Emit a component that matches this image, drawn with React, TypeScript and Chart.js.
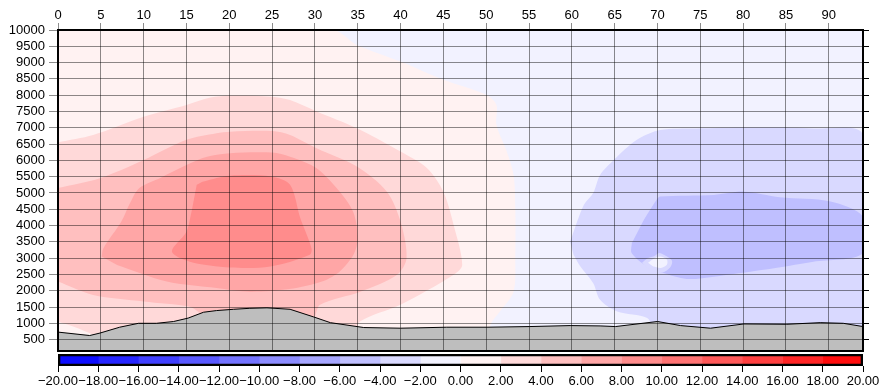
import React, { useEffect, useRef } from 'react';
import { Chart, registerables } from 'chart.js';

Chart.register(...registerables);

const FONT = { family: '"Liberation Sans", Arial, sans-serif', size: 13 };
const GRID = 'rgba(0,0,0,0.45)';

const X_MIN = 0;
const X_MAX = 94;
const Y_MIN = 150;
const Y_MAX = 10000;

const xTickValues = [0, 5, 10, 15, 20, 25, 30, 35, 40, 45, 50, 55, 60, 65, 70, 75, 80, 85, 90];
const yTickValues = [500, 1000, 1500, 2000, 2500, 3000, 3500, 4000, 4500, 5000, 5500, 6000, 6500, 7000, 7500, 8000, 8500, 9000, 9500, 10000];
const colorbarTicks = [-20, -18, -16, -14, -12, -10, -8, -6, -4, -2, 0, 2, 4, 6, 8, 10, 12, 14, 16, 18, 20];

// terrain profile
const terrainX = [0, 3.7, 4.9, 7.2, 9.4, 11.5, 13.5, 15.2, 17, 18.5, 20.5, 22.4, 24.4, 27.1, 29.8, 31.8, 35.7, 40, 45.4, 50.1, 55.1, 59.8, 63.3, 65.1, 70, 72.7, 76.2, 80.1, 85.1, 89, 91.7, 94];
const terrainY = [730, 625, 700, 880, 1000, 1000, 1055, 1160, 1340, 1390, 1430, 1460, 1475, 1430, 1200, 1020, 870, 850, 880, 880, 900, 930, 920, 900, 1055, 930, 850, 980, 970, 1020, 1000, 900];

// filled contour regions (value above band's lower level)
const bandBgX = [0, 0, 94, 94];
const bandBgY = [150, 10000, 10000, 150];

const band0X = [0, 0, 32.1, 34.9, 40, 45, 50.1, 51.2, 51.2, 52.4, 53.2, 53.4, 53.4, 53.2, 51.6, 50.5, 50];
const band0Y = [150, 10000, 10000, 9540, 9030, 8470, 8000, 7700, 7090, 6270, 5550, 4540, 3000, 1970, 1360, 950, 150];

const band2X = [0, 4.1, 10, 15, 17.8, 20.1, 25, 27.1, 30.2, 34.9, 40, 43.1, 45, 46.2, 47.2, 46.2, 40, 35.3, 34, 5, 4, 2, 0];
const band2Y = [6556, 6780, 7340, 7700, 7925, 7990, 7955, 7850, 7500, 6985, 6270, 5760, 5040, 4020, 2790, 2490, 1570, 1060, 500, 500, 660, 880, 1045];

const band4X = [0, 4.9, 10, 15, 18.5, 20.1, 25, 27.1, 30.2, 34.9, 38.4, 40, 40.7, 39.6, 35.3, 30.6, 29.8, 27, 18, 16.5, 15.4, 10, 4.1, 0];
const band4Y = [5150, 5450, 6010, 6630, 6830, 6880, 6900, 6780, 6370, 5810, 5040, 4120, 3000, 2490, 1970, 1570, 1150, 1000, 1000, 1330, 1510, 1670, 1870, 2280];

const band6X = [5.1, 5.3, 7.4, 8.4, 9.5, 12, 15, 17.4, 20.1, 25, 27.1, 30.2, 32.9, 34.5, 35, 34.5, 32.9, 31, 27, 22.4, 18.5, 12.7, 6.9];
const band6Y = [3050, 3300, 4120, 4680, 5150, 5470, 5860, 6110, 6220, 6240, 6110, 5760, 5040, 4400, 3600, 3100, 2590, 2300, 2050, 1970, 2080, 2280, 2790];

const band8X = [16.2, 17, 20.1, 25, 27.1, 28.3, 29.6, 29.4, 24.8, 20.1, 15.4, 13.3, 15, 15.6];
const band8Y = [5250, 5350, 5530, 5500, 5250, 4220, 3300, 3100, 2740, 2710, 2890, 3200, 3810, 4430];

const bandM2X = [59.8, 61.4, 62.5, 63.3, 64.9, 67.6, 70.3, 74.6, 80.5, 88.2, 94, 94, 70, 68.8, 65.3, 63.3, 62.5, 61, 60.2];
const bandM2Y = [3510, 4630, 5000, 5550, 6010, 6630, 6930, 6980, 7010, 6980, 6780, 700, 700, 1160, 1360, 1720, 2230, 2740, 3100];

const bandM4X = [68.4, 69.9, 70.3, 76.6, 80.1, 84.3, 90.2, 94, 94, 88.2, 82.4, 76.6, 73.4, 70.7, 68.8, 67, 67];
const bandM4Y = [4170, 4790, 4890, 4940, 5040, 4870, 4740, 4270, 3150, 2890, 2640, 2430, 2360, 2540, 2740, 3150, 3460];

const spotRingX = [68.2, 68.8, 69.6, 70.2, 70.9, 71.7, 71.5, 70.6, 69.6, 68.8];
const spotRingY = [2860, 2990, 3060, 3160, 3080, 2920, 2720, 2560, 2600, 2700];

const spotCoreX = [68.9, 69.6, 70.3, 71.1, 71.1, 70.4, 69.5];
const spotCoreY = [2860, 2990, 3050, 2960, 2800, 2700, 2740];

function binColor(lo: number, hi: number): string {
  const c = (lo + hi) / 2;
  const v = Math.round(255 * (1 - Math.abs(c) / 20));
  return c >= 0 ? `rgb(255,${v},${v})` : `rgb(${v},${v},255)`;
}

const fmt = (v: number) => v.toFixed(2).replace('-', '\u2212');

const noPad = (s: any) => { s.paddingTop = 0; s.paddingBottom = 0; s.paddingLeft = 0; s.paddingRight = 0; };

export default function App() {
  const mainRef = useRef<HTMLCanvasElement | null>(null);
  const cbRef = useRef<HTMLCanvasElement | null>(null);

  useEffect(() => {
    const bands: [number, number[], number[]][] = [
      [-2, bandBgX, bandBgY],
      [0, band0X, band0Y],
      [2, band2X, band2Y],
      [4, band4X, band4Y],
      [6, band6X, band6Y],
      [8, band8X, band8Y],
      [-4, bandM2X, bandM2Y],
      [-6, bandM4X, bandM4Y],
      [-4, spotRingX, spotRingY],
      [-2, spotCoreX, spotCoreY],
    ];
    const drawList: any[] = bands.map(([lo, xs, ys]) => ({
      data: xs.map((x, i) => ({ x, y: ys[i] })),
      fill: 'shape',
      backgroundColor: binColor(lo, lo + 2),
      borderColor: 'rgba(0,0,0,0)',
      borderWidth: 0,
      pointRadius: 0,
      pointHoverRadius: 0,
      tension: 0.3,
    }));
    drawList.push({
      data: terrainX.map((x, i) => ({ x, y: terrainY[i] })),
      fill: 'start',
      backgroundColor: '#bebebe',
      borderColor: '#000',
      borderWidth: 1,
      pointRadius: 0,
      pointHoverRadius: 0,
      tension: 0,
    });
    const n = drawList.length;
    drawList.forEach((d, i) => { d.order = n - i; });

    const setX = (s: any) => { s.ticks = xTickValues.map((v) => ({ value: v })); };
    const setY = (s: any) => { s.ticks = yTickValues.map((v) => ({ value: v })); };

    const main = new Chart(mainRef.current as HTMLCanvasElement, {
      type: 'line',
      data: { datasets: drawList },
      options: {
        responsive: false,
        animation: false,
        events: [],
        layout: { padding: 0 },
        plugins: { legend: { display: false }, tooltip: { enabled: false } },
        scales: {
          x: {
            type: 'linear', position: 'top', min: X_MIN, max: X_MAX,
            afterBuildTicks: setX,
            afterFit: (s: any) => { s.height = 30; noPad(s); },
            ticks: { autoSkip: false, maxRotation: 0, font: FONT, color: '#000', padding: 0, callback: (v: any) => String(v) },
            grid: { color: GRID, z: 1, tickLength: 7, tickColor: GRID },
            border: { color: '#000', width: 2, z: 2 },
          },
          xb: {
            type: 'linear', position: 'bottom', min: X_MIN, max: X_MAX,
            afterBuildTicks: setX,
            afterFit: (s: any) => { s.height = 2; noPad(s); },
            ticks: { display: false },
            grid: { drawOnChartArea: false, drawTicks: false },
            border: { color: '#000', width: 2, z: 2 },
          },
          y: {
            type: 'linear', position: 'left', min: Y_MIN, max: Y_MAX,
            afterBuildTicks: setY,
            afterFit: (s: any) => { s.width = 58; noPad(s); },
            ticks: { autoSkip: false, font: FONT, color: '#000', padding: 4, callback: (v: any) => String(v) },
            grid: { color: GRID, z: 1, tickLength: 9, tickColor: GRID },
            border: { color: '#000', width: 2, z: 2 },
          },
          yr: {
            type: 'linear', position: 'right', min: Y_MIN, max: Y_MAX,
            afterBuildTicks: setY,
            afterFit: (s: any) => { s.width = 19; noPad(s); },
            ticks: { display: false },
            grid: { drawOnChartArea: false, tickLength: 6, tickColor: '#000' },
            border: { color: '#000', width: 2, z: 2 },
          },
        },
      } as any,
    });

    const bins: [number, number][] = [];
    for (let i = 0; i < colorbarTicks.length - 1; i++) bins.push([colorbarTicks[i], colorbarTicks[i + 1]]);
    const cbSets: any[] = bins.map(([lo, hi]) => ({
      data: [[lo, hi]],
      backgroundColor: binColor(lo, hi),
      borderWidth: 0,
      grouped: false,
      barPercentage: 1,
      categoryPercentage: 1,
      order: 0,
    }));
    cbSets.push({
      data: [[colorbarTicks[0], colorbarTicks[colorbarTicks.length - 1]]],
      backgroundColor: 'rgba(0,0,0,0)',
      borderColor: '#000',
      borderWidth: 2,
      borderSkipped: false,
      grouped: false,
      barPercentage: 1,
      categoryPercentage: 1,
      order: -1,
    });

    const cb = new Chart(cbRef.current as HTMLCanvasElement, {
      type: 'bar',
      data: { labels: ['cb'], datasets: cbSets },
      options: {
        indexAxis: 'y',
        responsive: false,
        animation: false,
        events: [],
        layout: { padding: { left: 58, right: 19, top: 1, bottom: 0 } },
        plugins: { legend: { display: false }, tooltip: { enabled: false } },
        scales: {
          x: {
            type: 'linear', min: colorbarTicks[0], max: colorbarTicks[colorbarTicks.length - 1],
            afterBuildTicks: (s: any) => { s.ticks = colorbarTicks.map((v) => ({ value: v })); },
            afterFit: (s: any) => { s.height = 22; noPad(s); },
            ticks: { autoSkip: false, maxRotation: 0, minRotation: 0, font: FONT, color: '#000', padding: 2, callback: (v: any) => fmt(Number(v)) },
            grid: { drawOnChartArea: false, tickLength: 6, tickColor: '#000' },
            border: { display: false },
          },
          y: { display: false },
        },
      } as any,
    });

    return () => { main.destroy(); cb.destroy(); };
  }, []);

  return (
    <div style={{ position: 'absolute', left: 0, top: 0, width: 882, height: 388, background: '#fff' }}>
      <canvas ref={mainRef} width={882} height={353} style={{ position: 'absolute', left: 0, top: 0 }} />
      <canvas ref={cbRef} width={882} height={35} style={{ position: 'absolute', left: 0, top: 353 }} />
    </div>
  );
}
